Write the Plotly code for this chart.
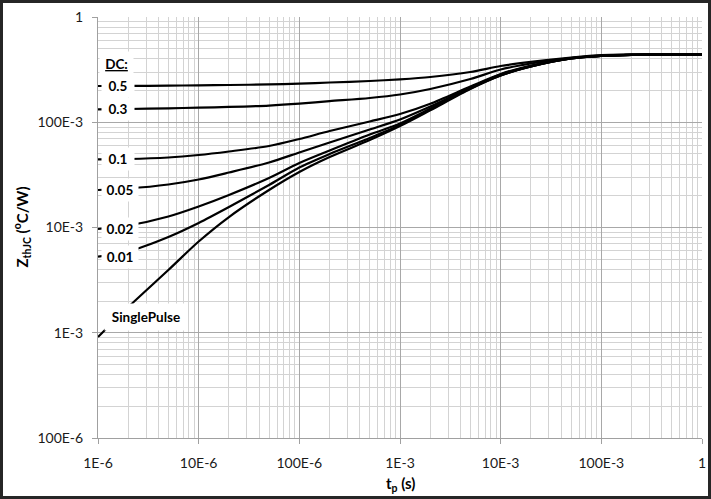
import math
import plotly.graph_objects as go

# ---------------- data ----------------
t_p = [1e-6, 2e-6, 5e-6, 1e-5, 2e-5, 5e-5, 1e-4, 2e-4, 5e-4, 1e-3,
       2e-3, 5e-3, 1e-2, 2e-2, 5e-2, 0.1, 0.2, 0.5, 1.0]

z_dc05 = [0.2211, 0.2213, 0.2225, 0.2243, 0.2260, 0.2288, 0.2330, 0.2385, 0.2465, 0.2559,
          0.2691, 0.3002, 0.3423, 0.3750, 0.4123, 0.4355, 0.4402, 0.4421, 0.4421]
z_dc03 = [0.1327, 0.1336, 0.1357, 0.1375, 0.1398, 0.1440, 0.1500, 0.1585, 0.1700, 0.1835,
          0.2070, 0.2576, 0.3171, 0.3617, 0.4077, 0.4307, 0.4393, 0.4421, 0.4421]
z_dc01 = [0.04446, 0.04475, 0.04624, 0.04884, 0.05274, 0.05946, 0.06932, 0.08256, 0.1017, 0.1198,
          0.1500, 0.2186, 0.2874, 0.3461, 0.4077, 0.4261, 0.4375, 0.4421, 0.4421]
z_dc005 = [0.02272, 0.02348, 0.02562, 0.02858, 0.03332, 0.04146, 0.05160, 0.06421, 0.08535, 0.1062,
           0.1410, 0.2139, 0.2843, 0.3423, 0.4034, 0.4261, 0.4375, 0.4421, 0.4421]
z_dc002 = [0.009676, 0.01045, 0.01272, 0.01583, 0.02036, 0.02954, 0.04101, 0.05391, 0.07648, 0.0973,
           0.1350, 0.2115, 0.2812, 0.3386, 0.4034, 0.4261, 0.4375, 0.4421, 0.4421]
z_dc001 = [0.00528, 0.005916, 0.008124, 0.01104, 0.01565, 0.02534, 0.03716, 0.04993, 0.07085, 0.09417,
           0.1330, 0.2093, 0.2781, 0.3386, 0.4034, 0.4261, 0.4375, 0.4421, 0.4421]
z_single = [0.000911, 0.001757, 0.003948, 0.007362, 0.01258, 0.02272, 0.03369, 0.04675, 0.06782, 0.09213,
            0.1300, 0.2070, 0.2781, 0.3386, 0.4034, 0.4261, 0.4375, 0.4421, 0.4421]

series_labels = ["0.5", "0.3", "0.1", "0.05", "0.02", "0.01"]
series_values = [z_dc05, z_dc03, z_dc01, z_dc005, z_dc002, z_dc001]

x_tickvals = [1e-6, 1e-5, 1e-4, 1e-3, 1e-2, 1e-1, 1]
x_ticktext = ["1E-6", "10E-6", "100E-6", "1E-3", "10E-3", "100E-3", "1"]
y_tickvals = [1e-4, 1e-3, 1e-2, 1e-1, 1]
y_ticktext = ["100E-6", "1E-3", "10E-3", "100E-3", "1"]

# ---------------- figure ----------------
FONT = "Lato"
fig = go.Figure()

for lab, vals in zip(series_labels, series_values):
    fig.add_trace(go.Scatter(x=t_p, y=vals, mode="lines", name="DC " + lab,
                             line=dict(color="black", width=2.2, shape="spline", smoothing=0.8),
                             showlegend=False))
fig.add_trace(go.Scatter(x=t_p, y=z_single, mode="lines", name="SinglePulse",
                         line=dict(color="black", width=2.2, shape="spline", smoothing=0.8),
                         showlegend=False))

minor_x = [m * 10 ** e for e in range(-6, 0) for m in range(2, 10)]
minor_y = [m * 10 ** e for e in range(-4, 0) for m in range(2, 10)]

axis_common = dict(
    type="log", showline=True, linecolor="#a0a0a0", linewidth=1, automargin=False,
    ticks="outside", ticklen=5, tickcolor="#a0a0a0", tickwidth=1,
    showgrid=True, gridcolor="#a8a8a8", gridwidth=1, zeroline=False,
    tickfont=dict(family=FONT, size=14, color="#1a1a1a"),
)

fig.update_layout(
    width=711, height=499,
    margin=dict(l=98, r=9, t=17, b=61),
    paper_bgcolor="white", plot_bgcolor="white",
    xaxis=dict(range=[-6, 0], tickvals=x_tickvals, ticktext=x_ticktext,
               ticklabelstandoff=7,
               minor=dict(tickvals=minor_x, showgrid=True, gridcolor="#d3d3d3", gridwidth=1, ticks=""),
               **axis_common),
    yaxis=dict(range=[-4, 0], tickvals=y_tickvals, ticktext=y_ticktext,
               ticklabelstandoff=6,
               minor=dict(tickvals=minor_y, showgrid=True, gridcolor="#d3d3d3", gridwidth=1, ticks=""),
               **axis_common),
    font=dict(family=FONT, color="black"),
)

annotations = []
annotations.append(dict(xref="paper", yref="paper", x=-76 / 604, y=0.5,
                        text="<b>Z<sub>thJC</sub> (<sup>o</sup>C/W)</b>", textangle=-90,
                        showarrow=False, font=dict(family=FONT, size=15, color="black"),
                        xanchor="center", yanchor="middle"))
annotations.append(dict(xref="paper", yref="paper", x=0.5, y=-46 / 421,
                        text="<b>t<sub>p</sub> (s)</b>",
                        showarrow=False, font=dict(family=FONT, size=15, color="black"),
                        xanchor="center", yanchor="middle"))

label_widths = [26, 26, 26, 30, 30, 30]
for lab, vals, w in zip(series_labels, series_values, label_widths):
    annotations.append(dict(xref="x", yref="y", x=-5.97, y=math.log10(vals[0]),
                            text="<b>" + lab + "</b>", showarrow=False,
                            xanchor="left", yanchor="middle", width=w, height=16,
                            align="center", bgcolor="white", borderpad=3,
                            font=dict(family=FONT, size=13.5, color="black")))
annotations.append(dict(xref="x", yref="y", x=-5.99, y=-0.447,
                        text="<b><u>DC:</u></b>", showarrow=False,
                        xanchor="left", yanchor="middle", width=27, height=18,
                        align="center", bgcolor="white", borderpad=3,
                        font=dict(family=FONT, size=13.5, color="black")))
annotations.append(dict(xref="x", yref="y", x=-5.94, y=-2.85,
                        text="<b>SinglePulse</b>", showarrow=False,
                        xanchor="left", yanchor="middle", width=76, height=20,
                        align="center", bgcolor="white", borderpad=3,
                        font=dict(family=FONT, size=13.5, color="black")))
fig.update_layout(annotations=annotations)

fig.add_shape(type="rect", xref="paper", yref="paper",
              x0=(-98 + 1.5) / 604, x1=(604 + 9 - 1.5) / 604,
              y0=(-61 + 1.5) / 421, y1=(421 + 17 - 1.5) / 421,
              line=dict(color="#262626", width=3), fillcolor="rgba(0,0,0,0)")

fig.write_html("out.html", config={"displayModeBar": False},
               post_script="document.body.style.margin='0';document.body.style.overflow='hidden';")
